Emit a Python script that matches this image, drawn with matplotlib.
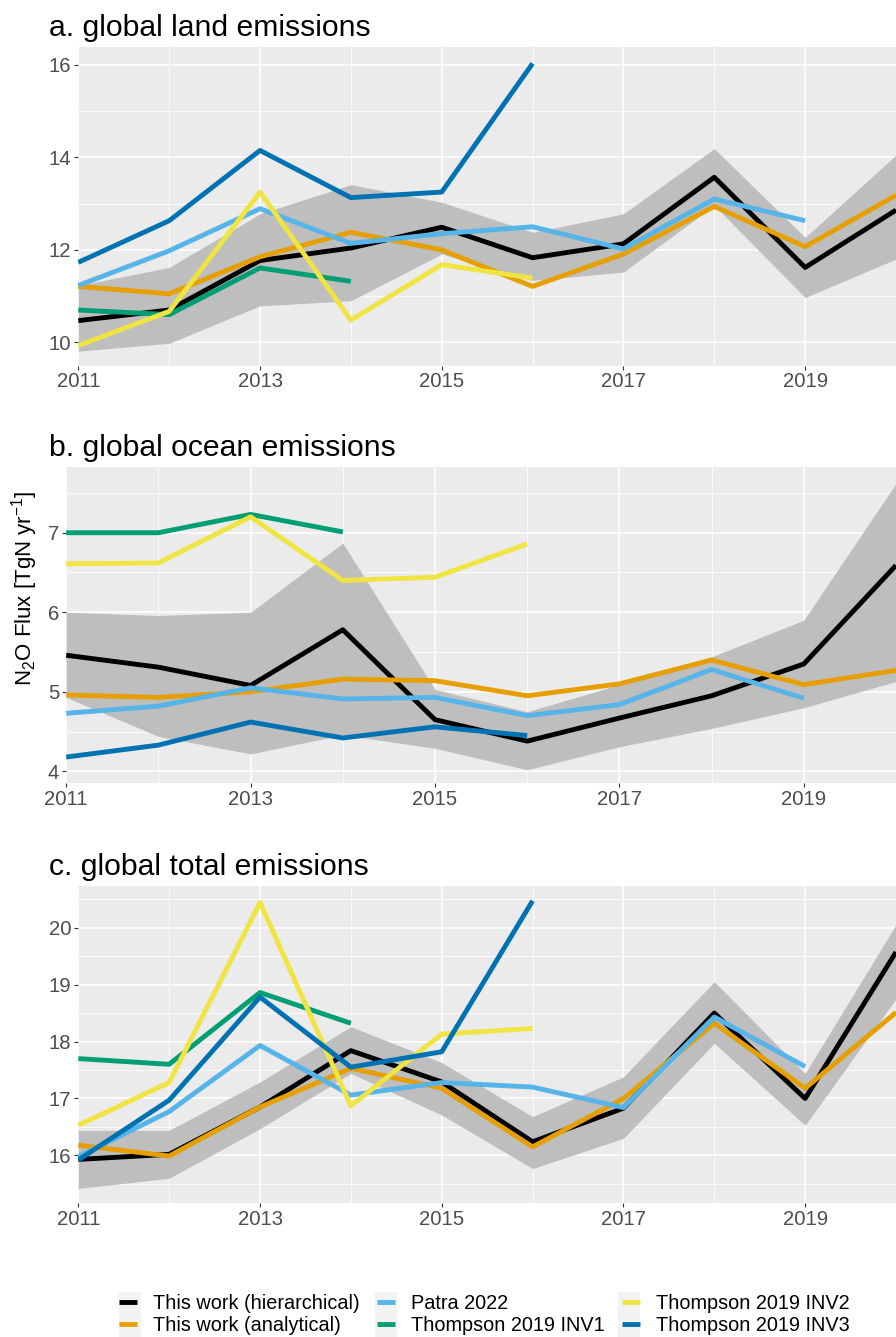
import numpy as np
import matplotlib
matplotlib.use("Agg")
import matplotlib.pyplot as plt
from matplotlib.patches import Rectangle
from matplotlib.lines import Line2D

plt.rcParams['font.family'] = ['Liberation Sans', 'DejaVu Sans']
plt.rcParams['mathtext.default'] = 'regular'

years = [2011, 2012, 2013, 2014, 2015, 2016, 2017, 2018, 2019, 2020]

# land (TgN/yr)
land_hier = [10.47, 10.70, 11.77, 12.04, 12.49, 11.83, 12.13, 13.57, 11.62, 12.86]
land_hier_lo = [9.81, 9.98, 10.79, 10.90, 11.91, 11.34, 11.52, 12.96, 10.97, 11.80]
land_hier_hi = [11.23, 11.62, 12.78, 13.41, 13.03, 12.38, 12.78, 14.19, 12.27, 14.05]
land_anal = [11.21, 11.05, 11.85, 12.38, 12.00, 11.21, 11.91, 12.94, 12.07, 13.18]
land_patra = [11.23, 11.98, 12.89, 12.14, 12.35, 12.50, 12.02, 13.10, 12.63]
land_inv1 = [10.70, 10.60, 11.61, 11.32]
land_inv2 = [9.93, 10.67, 13.25, 10.48, 11.68, 11.39]
land_inv3 = [11.73, 12.63, 14.15, 13.13, 13.25, 16.03]

# ocean
ocean_hier = [5.46, 5.31, 5.08, 5.78, 4.65, 4.38, 4.67, 4.95, 5.35, 6.59]
ocean_hier_lo = [4.93, 4.44, 4.22, 4.46, 4.29, 4.02, 4.31, 4.54, 4.80, 5.13]
ocean_hier_hi = [6.00, 5.96, 6.00, 6.87, 5.03, 4.75, 5.09, 5.44, 5.90, 7.62]
ocean_anal = [4.96, 4.93, 5.00, 5.16, 5.14, 4.95, 5.10, 5.40, 5.09, 5.27]
ocean_patra = [4.73, 4.82, 5.05, 4.91, 4.93, 4.70, 4.84, 5.28, 4.92]
ocean_inv1 = [7.00, 7.00, 7.23, 7.01]
ocean_inv2 = [6.61, 6.62, 7.20, 6.40, 6.44, 6.86]
ocean_inv3 = [4.18, 4.33, 4.62, 4.42, 4.56, 4.45]

# total
total_hier = [15.93, 16.02, 16.85, 17.84, 17.29, 16.24, 16.83, 18.50, 17.00, 19.57]
total_hier_lo = [15.42, 15.60, 16.47, 17.44, 16.71, 15.77, 16.30, 17.97, 16.53, 18.75]
total_hier_hi = [16.44, 16.44, 17.29, 18.26, 17.63, 16.68, 17.38, 19.05, 17.44, 20.05]
total_anal = [16.18, 15.99, 16.85, 17.53, 17.18, 16.15, 17.00, 18.32, 17.18, 18.51]
total_patra = [15.98, 16.77, 17.93, 17.06, 17.28, 17.20, 16.84, 18.43, 17.56]
total_inv1 = [17.70, 17.60, 18.86, 18.32]
total_inv2 = [16.53, 17.28, 20.44, 16.87, 18.13, 18.23]
total_inv3 = [15.92, 16.97, 18.78, 17.55, 17.82, 20.47]

series_names = ["This work (hierarchical)", "This work (analytical)", "Patra 2022",
                "Thompson 2019 INV1", "Thompson 2019 INV2", "Thompson 2019 INV3"]
series_colors = ["#000000", "#E69F00", "#56B4E9", "#009E73", "#F0E442", "#0072B2"]

panel_titles = ["a. global land emissions", "b. global ocean emissions",
                "c. global total emissions"]

panels = [
    dict(lo=land_hier_lo, hi=land_hier_hi,
         series=[land_hier, land_anal, land_patra, land_inv1, land_inv2, land_inv3],
         ylim=(9.50, 16.38), major=[10, 12, 14, 16], minor=[11, 13, 15]),
    dict(lo=ocean_hier_lo, hi=ocean_hier_hi,
         series=[ocean_hier, ocean_anal, ocean_patra, ocean_inv1, ocean_inv2, ocean_inv3],
         ylim=(3.85, 7.83), major=[4, 5, 6, 7], minor=[4.5, 5.5, 6.5, 7.5]),
    dict(lo=total_hier_lo, hi=total_hier_hi,
         series=[total_hier, total_anal, total_patra, total_inv1, total_inv2, total_inv3],
         ylim=(15.16, 20.73), major=[16, 17, 18, 19, 20], minor=[15.5, 16.5, 17.5, 18.5, 19.5, 20.5]),
]

W, H = 896, 1337
fig = plt.figure(figsize=(W / 100, H / 100), dpi=100)

# panel boxes in pixels: left, top, bottom
boxes = [(78.3, 47.3, 365.5), (66.2, 466.7, 783.3), (78.3, 886.0, 1203.3)]
title_base = [36.5, 456.0, 875.0]

for i, (p, (lft, top, bot)) in enumerate(zip(panels, boxes)):
    ax = fig.add_axes([lft / W, 1 - bot / H, (W - lft) / W, (bot - top) / H])
    ax.set_facecolor("#EBEBEB")
    for s in ax.spines.values():
        s.set_visible(False)
    ax.set_xlim(2011, 2019.9)
    ax.set_ylim(*p["ylim"])
    ax.set_xticks([2011, 2013, 2015, 2017, 2019])
    ax.set_xticks([2012, 2014, 2016, 2018, 2020], minor=True)
    ax.set_yticks(p["major"])
    ax.set_yticks(p["minor"], minor=True)
    ax.grid(which="major", color="white", linewidth=1.1)
    ax.grid(which="minor", color="white", linewidth=0.55)
    ax.set_axisbelow(True)
    ax.tick_params(which="major", length=2.8, width=0.8, color="#333333",
                   labelsize=14.6, labelcolor="#4D4D4D", pad=2.2)
    ax.tick_params(which="minor", length=0)

    yrs = np.array(years)
    ax.fill_between(yrs, p["lo"], p["hi"], color="#BEBEBE", linewidth=0, zorder=2)
    for vals, col in zip(p["series"], series_colors):
        ax.plot(yrs[:len(vals)], vals, color=col, linewidth=3.5,
                solid_capstyle="butt", solid_joinstyle="round", zorder=3)

    fig.text(49 / W, 1 - title_base[i] / H, panel_titles[i], fontsize=21.7,
             ha="left", va="baseline", color="black")

fig.text(25 / W, 1 - 588 / H, "N$_2$O Flux [TgN yr$^{-1}$]", rotation=90,
         fontsize=16, ha="center", va="center", color="black")

# legend key backgrounds
for kx in [119, 375, 618]:
    fig.patches.append(Rectangle((kx / W, 1 - 1337 / H), 22 / W, 45 / H,
                                 transform=fig.transFigure, facecolor="#F2F2F2",
                                 edgecolor="none", zorder=0))

handles = [Line2D([], [], color=c, linewidth=3.5, solid_capstyle="butt") for c in series_colors]
fig.legend(handles, series_names, ncol=3, loc="center", bbox_to_anchor=(484.5 / W, 1 - 1314.5 / H),
           frameon=False, fontsize=14.3, handlelength=0.88, handletextpad=0.82,
           columnspacing=0.88, labelspacing=0.15, borderpad=0, borderaxespad=0)

fig.savefig("out.png", dpi=100)
